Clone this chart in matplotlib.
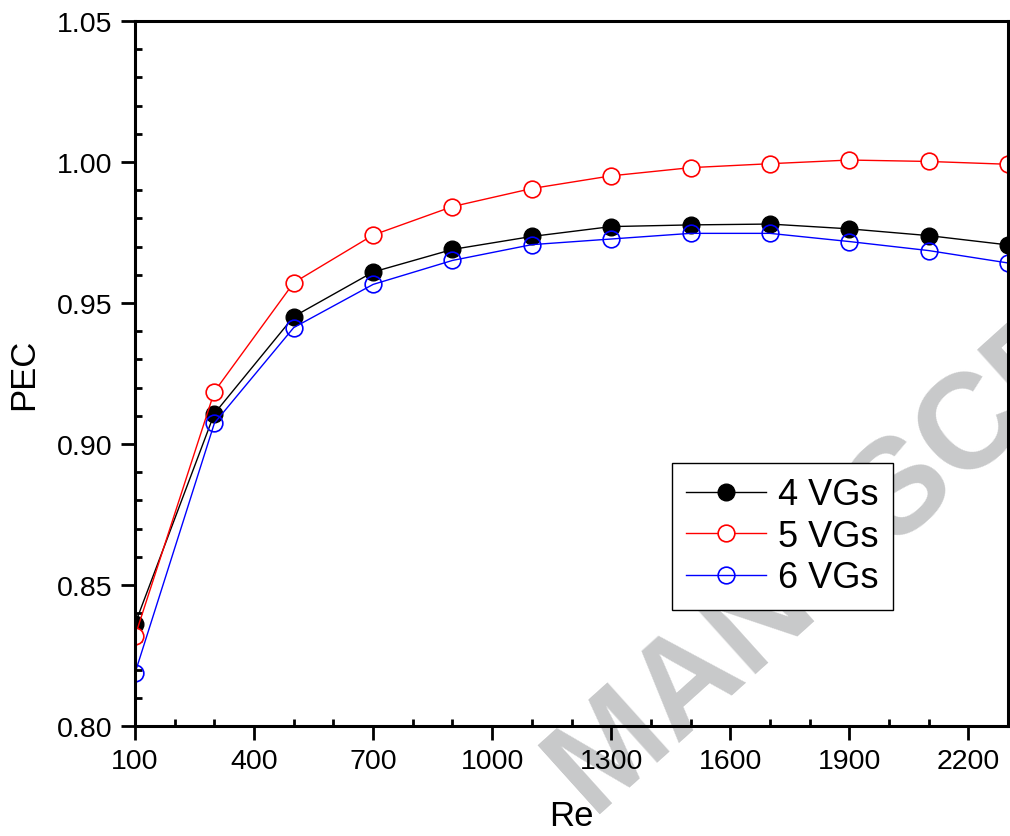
import matplotlib
matplotlib.use('Agg')
import matplotlib.pyplot as plt
from matplotlib.ticker import MultipleLocator, FixedLocator

plt.rcParams['font.family'] = ['Liberation Sans', 'DejaVu Sans']

# Reynolds numbers and PEC values
re_vals = [100, 300, 500, 700, 900, 1100, 1300, 1500, 1700, 1900, 2100, 2300]
pec_4vg = [0.8362, 0.9108, 0.9452, 0.9610, 0.9690, 0.9736, 0.9771, 0.9777,
           0.9780, 0.9763, 0.9739, 0.9706]
pec_5vg = [0.8319, 0.9186, 0.9572, 0.9741, 0.9842, 0.9906, 0.9951, 0.9980,
           0.9994, 1.0007, 1.0002, 0.9992]
pec_6vg = [0.8188, 0.9074, 0.9413, 0.9566, 0.9651, 0.9707, 0.9727, 0.9747,
           0.9747, 0.9718, 0.9686, 0.9642]

labels = ['4 VGs', '5 VGs', '6 VGs']
x_ticks = [100, 400, 700, 1000, 1300, 1600, 1900, 2200]

fig = plt.figure(figsize=(10.1, 8.37), dpi=100)
ax = fig.add_axes([0.1337, 0.1314, 0.8643, 0.8423])
ax.set_facecolor('none')

# watermark sits behind everything
fig.text(902 / 1010, 1 - 488 / 837, 'MANUSCRIPT', fontsize=97, fontweight='bold',
         color='#c8c9ca', rotation=42, rotation_mode='anchor',
         ha='center', va='center', zorder=-5)

ms = 12
ax.plot(re_vals, pec_4vg, '-o', color='black', lw=1, ms=ms, mfc='black',
        mec='black', label=labels[0])
ax.plot(re_vals, pec_5vg, '-o', color='red', lw=1, ms=ms, mfc='white',
        mec='red', mew=1.2, label=labels[1])
ax.plot(re_vals, pec_6vg, '-o', color='blue', lw=1, ms=ms, mfc='none',
        mec='blue', mew=1.2, label=labels[2])

ax.set_xlim(100, 2300)
ax.set_ylim(0.80, 1.05)
ax.xaxis.set_major_locator(FixedLocator(x_ticks))
ax.xaxis.set_minor_locator(MultipleLocator(100))
ax.yaxis.set_major_locator(MultipleLocator(0.05))
ax.yaxis.set_minor_locator(MultipleLocator(0.01))
ax.yaxis.set_major_formatter(plt.FormatStrFormatter('%.2f'))

for s in ax.spines.values():
    s.set_linewidth(2.2)
ax.tick_params(which='major', direction='out', length=10, width=2,
               labelsize=20.5, pad=6)
ax.tick_params(which='minor', direction='in', length=5, width=2)

ax.set_xlabel('Re', fontsize=25, labelpad=18)
ax.set_ylabel('PEC', fontsize=25, labelpad=12)

leg = ax.legend(loc='upper left', bbox_to_anchor=(0.615, 0.373), fontsize=26,
                fancybox=False, framealpha=1, edgecolor='black',
                handlelength=2.2, handletextpad=0.35, borderpad=0.4,
                labelspacing=0.18, borderaxespad=0)
leg.get_frame().set_linewidth(1)

fig.savefig('out.png', dpi=100)
